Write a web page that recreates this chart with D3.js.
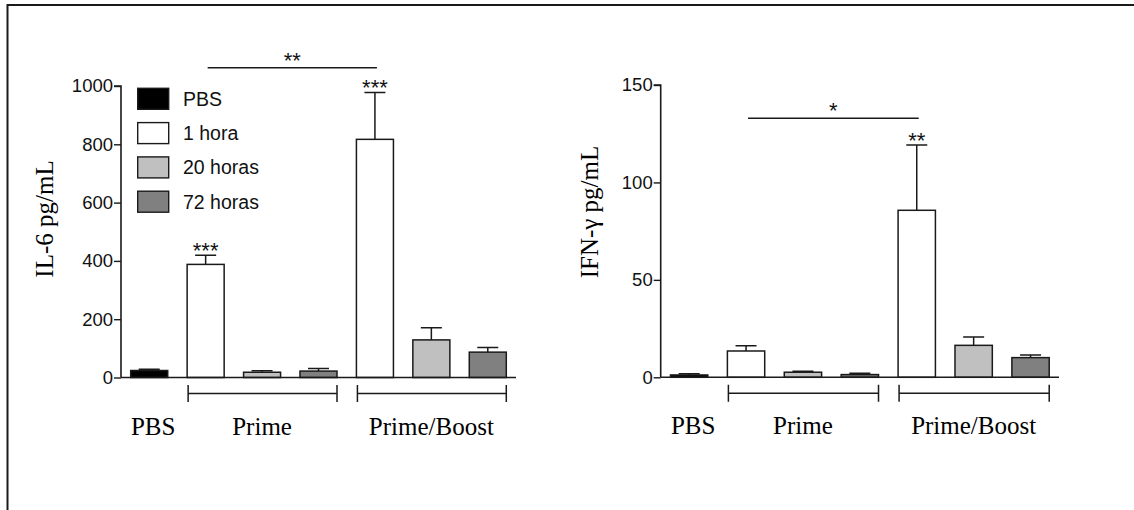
<!DOCTYPE html>
<html>
<head>
<meta charset="utf-8">
<script src="https://cdn.jsdelivr.net/npm/d3@7"></script>
<style>
  html, body { margin: 0; padding: 0; background: #fff; }
  svg { display: block; }
</style>
</head>
<body>
<svg id="chart" width="1134" height="510"></svg>
<script>
// ---- data ----
const groupLabels = ["PBS", "Prime", "Prime/Boost"];
const seriesNames = ["PBS", "1 hora", "20 horas", "72 horas"];
const seriesColors = ["#000000", "#ffffff", "#c0c0c0", "#808080"];

// one entry per bar, left to right
const barSeries = [0, 1, 2, 3, 1, 2, 3];
const barGroup  = [0, 1, 1, 1, 2, 2, 2];

const il6Mean  = [24, 388, 18, 22, 817, 129, 87];
const il6Sem   = [4, 31, 5, 9, 161, 42, 16];
const il6Stars = ["", "***", "", "", "***", "", ""];
const il6Ticks = [0, 200, 400, 600, 800, 1000];
const il6Max   = 1000;
// comparison line: from bar, to bar, level, label
const il6Compare = [1, 4, 1063, "**"];

const ifnMean  = [1.2, 13.5, 2.6, 1.4, 85.7, 16.4, 10.1];
const ifnSem   = [0.6, 2.7, 0.5, 0.7, 33.5, 4.3, 1.3];
const ifnStars = ["", "", "", "", "**", "", ""];
const ifnTicks = [0, 50, 100, 150];
const ifnMax   = 150;
const ifnCompare = [1, 4, 133, "*"];

// ---- drawing ----
const svg = d3.select("#chart");
const SANS = "'Liberation Sans', Arial, Helvetica, sans-serif";
const SERIF = "'Liberation Serif', 'Times New Roman', Times, serif";
const INK = "#1a1a1a";

// outer frame (top and left edges)
svg.append("path")
  .attr("d", "M7.5,510 V5 H1134")
  .attr("fill", "none").attr("stroke", INK).attr("stroke-width", 2);

function panel(opt) {
  const g = svg.append("g");
  const idx = d3.range(opt.mean.length);

  const x = d3.scaleBand().domain(idx)
    .range([opt.x0, opt.x1]).paddingInner(0.344).paddingOuter(0.172);
  const y = d3.scaleLinear().domain([0, opt.max]).range([opt.y0, opt.yTop]);

  // y axis
  const yAxis = d3.axisLeft(y).tickValues(opt.ticks).tickSize(7).tickPadding(1)
    .tickFormat(d3.format("d"));
  const ya = g.append("g").attr("transform", `translate(${opt.x0},0)`).call(yAxis);
  ya.select(".domain").attr("stroke", INK).attr("stroke-width", 1.6)
    .attr("d", `M-7,${y(opt.max)}H0V${opt.y0}`);
  ya.selectAll(".tick line").attr("stroke", INK).attr("stroke-width", 1.4);
  ya.selectAll(".tick text").attr("fill", "#111")
    .style("font-family", SANS).style("font-size", "18.5px");

  // bars
  g.selectAll("rect.bar").data(idx).join("rect")
    .attr("class", "bar")
    .attr("x", i => x(i))
    .attr("y", i => y(opt.mean[i]))
    .attr("width", x.bandwidth())
    .attr("height", i => opt.y0 - y(opt.mean[i]))
    .attr("fill", i => seriesColors[barSeries[i]])
    .attr("stroke", INK).attr("stroke-width", 1.5);

  // upper error bars
  const cap = 10.5;
  idx.forEach(i => {
    const cx = x(i) + x.bandwidth() / 2;
    const top = y(opt.mean[i] + opt.sem[i]);
    g.append("path")
      .attr("d", `M${cx},${y(opt.mean[i])}V${top}M${cx - cap},${top}H${cx + cap}`)
      .attr("fill", "none").attr("stroke", INK).attr("stroke-width", 1.5);
    if (opt.stars[i]) {
      g.append("text").attr("x", cx).attr("y", top + 3)
        .attr("text-anchor", "middle").attr("fill", "#111")
        .style("font-family", SANS).style("font-size", "22px")
        .text(opt.stars[i]);
    }
  });

  // x axis baseline
  g.append("line")
    .attr("x1", opt.x0).attr("x2", opt.x1)
    .attr("y1", opt.y0).attr("y2", opt.y0)
    .attr("stroke", INK).attr("stroke-width", 1.6);

  // group brackets and labels
  const by = opt.y0 + 16;
  groupLabels.forEach((lab, gi) => {
    const members = idx.filter(i => barGroup[i] === gi);
    const a = x(members[0]) + 1;
    const b = x(members[members.length - 1]) + x.bandwidth();
    if (members.length > 1) {
      g.append("path")
        .attr("d", `M${a},${by - 8.5}V${by + 8.5}M${a},${by}H${b}M${b},${by - 8.5}V${by + 8.5}`)
        .attr("fill", "none").attr("stroke", INK).attr("stroke-width", 1.5);
    }
    const mid = members.length > 1 ? x(members[1]) + x.bandwidth() / 2
                                   : x(members[0]) + x.bandwidth() / 2 + 4;
    g.append("text").attr("x", mid).attr("y", opt.y0 + 57)
      .attr("text-anchor", "middle").attr("fill", "#000")
      .style("font-family", SERIF).style("font-size", "25px")
      .text(lab);
  });

  // comparison line
  const [cf, ct, lvl, clab] = opt.compare;
  const ly = y(lvl);
  const lx1 = x(cf) + x.bandwidth() / 2 + 2;
  const lx2 = x(ct) + x.bandwidth() / 2 + 2;
  g.append("line").attr("x1", lx1).attr("x2", lx2).attr("y1", ly).attr("y2", ly)
    .attr("stroke", INK).attr("stroke-width", 1.5);
  g.append("text").attr("x", (lx1 + lx2) / 2).attr("y", ly + 0.3)
    .attr("text-anchor", "middle").attr("fill", "#111")
    .style("font-family", SANS).style("font-size", "22px")
    .text(clab);

  // y title
  g.append("text")
    .attr("transform", `translate(${opt.titleX},${opt.titleY}) rotate(-90)`)
    .attr("text-anchor", "middle").attr("fill", "#000")
    .style("font-family", SERIF).style("font-size", "25px")
    .text(opt.title);

  return { g, x, y };
}

const left = panel({
  mean: il6Mean, sem: il6Sem, stars: il6Stars, ticks: il6Ticks, max: il6Max,
  compare: il6Compare, title: "IL-6 pg/mL",
  x0: 121, x1: 516, y0: 377.5, yTop: 86, titleX: 53, titleY: 219
});

const right = panel({
  mean: ifnMean, sem: ifnSem, stars: ifnStars, ticks: ifnTicks, max: ifnMax,
  compare: ifnCompare, title: "IFN-\u03b3 pg/mL",
  x0: 660.7, x1: 1059, y0: 377.3, yTop: 85, titleX: 598, titleY: 212
});

// legend
const legend = svg.append("g");
seriesNames.forEach((name, i) => {
  const ry = 88.3 + i * 34.3;
  legend.append("rect")
    .attr("x", 137.7).attr("y", ry).attr("width", 31).attr("height", 21)
    .attr("fill", seriesColors[i]).attr("stroke", INK).attr("stroke-width", 1.4);
  legend.append("text")
    .attr("x", 183).attr("y", ry + 10.5).attr("dy", "0.36em")
    .attr("fill", "#111")
    .style("font-family", SANS).style("font-size", "19.5px")
    .text(name);
});
</script>
</body>
</html>
